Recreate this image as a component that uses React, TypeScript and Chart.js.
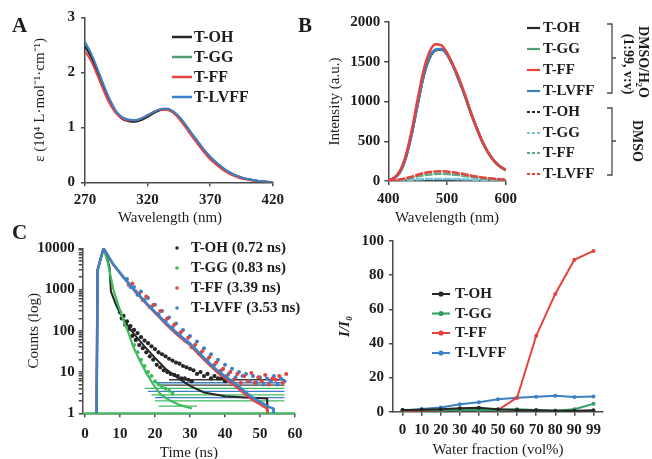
import React, { useEffect, useRef } from 'react';
import { Chart, registerables } from 'chart.js';

Chart.register(...registerables);

const SERIF = "'Liberation Serif', 'Times New Roman', Times, serif";
const AXIS = '#4a4a4a';
const INK = '#1c1c1c';

const seriesNames = ['T-OH', 'T-GG', 'T-FF', 'T-LVFF'];
const lifetimesNs = ['0.72', '0.83', '3.39', '3.53'];

// ---------- Panel A: absorption ----------
const absWavelength = [270, 275, 280, 285, 290, 295, 300, 305, 310, 315, 320, 325, 330, 335, 340, 345, 350, 355, 360, 365, 370, 375, 380, 385, 390, 395, 400, 405, 410, 415, 420];
const absTOH = [2.47, 2.27, 2.0, 1.72, 1.46, 1.26, 1.15, 1.11, 1.1, 1.13, 1.19, 1.26, 1.31, 1.33, 1.29, 1.19, 1.05, 0.89, 0.74, 0.59, 0.46, 0.35, 0.26, 0.19, 0.13, 0.09, 0.06, 0.04, 0.02, 0.01, 0.0];
const absTGG = [2.52, 2.31, 2.03, 1.74, 1.48, 1.28, 1.17, 1.13, 1.12, 1.15, 1.21, 1.28, 1.32, 1.33, 1.29, 1.18, 1.04, 0.88, 0.73, 0.58, 0.45, 0.34, 0.25, 0.18, 0.12, 0.08, 0.05, 0.03, 0.02, 0.01, 0.0];
const absTFF = [2.38, 2.2, 1.94, 1.66, 1.42, 1.25, 1.16, 1.13, 1.13, 1.16, 1.22, 1.28, 1.32, 1.32, 1.27, 1.16, 1.01, 0.85, 0.7, 0.55, 0.42, 0.32, 0.23, 0.16, 0.11, 0.07, 0.05, 0.03, 0.02, 0.01, 0.0];
const absTLVFF = [2.55, 2.34, 2.06, 1.77, 1.5, 1.29, 1.18, 1.14, 1.13, 1.16, 1.22, 1.28, 1.33, 1.34, 1.3, 1.2, 1.06, 0.9, 0.75, 0.6, 0.47, 0.36, 0.27, 0.19, 0.13, 0.09, 0.06, 0.04, 0.02, 0.01, 0.0];
const absTicksX = [270, 320, 370, 420];
const absTicksY = [0, 1, 2, 3];

// ---------- Panel B: emission ----------
const emWavelength = [400, 410, 420, 430, 440, 450, 460, 470, 480, 490, 500, 510, 520, 530, 540, 550, 560, 570, 580, 590, 600];
const emWaterTOH = [8, 33, 112, 295, 594, 962, 1312, 1542, 1643, 1655, 1592, 1452, 1272, 1082, 867, 672, 497, 357, 252, 182, 137];
const emWaterTGG = [9, 36, 117, 303, 605, 975, 1325, 1554, 1652, 1660, 1596, 1456, 1276, 1086, 871, 676, 501, 361, 256, 186, 141];
const emWaterTFF = [10, 40, 130, 330, 640, 1030, 1390, 1620, 1720, 1710, 1615, 1465, 1300, 1100, 880, 680, 500, 360, 255, 185, 140];
const emWaterTLVFF = [8, 35, 115, 300, 600, 970, 1320, 1550, 1650, 1660, 1595, 1455, 1275, 1085, 870, 675, 500, 360, 255, 185, 140];
const emDmsoTOH = [2, 3, 4, 6, 8, 10, 12, 13, 14, 14, 13, 12, 11, 10, 8, 7, 6, 5, 4, 3, 3];
const emDmsoTGG = [3, 5, 8, 12, 16, 20, 23, 25, 26, 26, 25, 24, 22, 20, 18, 16, 14, 12, 10, 9, 8];
const emDmsoTFF = [3, 8, 15, 28, 42, 58, 72, 82, 88, 90, 88, 82, 74, 64, 54, 44, 35, 28, 22, 17, 13];
const emDmsoTLVFF = [4, 10, 20, 35, 55, 78, 98, 112, 120, 122, 118, 110, 98, 85, 70, 57, 45, 35, 27, 21, 16];
const emTicksX = [400, 500, 600];
const emTicksY = [0, 500, 1000, 1500, 2000];

// ---------- Panel C: decay ----------
const fitTimeTOH = [3.3, 3.6, 5.3, 6.3, 7.0, 7.4, 9, 11, 13.8, 17, 20, 23, 26.7, 30, 34, 40, 46, 52, 52.1];
const fitCountTOH = [1, 3000, 10000, 6000, 3500, 900, 400, 190, 88, 42, 22, 12, 7, 4.6, 3.2, 2.6, 2.4, 2.3, 1];
const fitTimeTGG = [3.3, 3.6, 5.3, 6.5, 8.1, 9.5, 11, 12.5, 13.8, 15.5, 17.6, 19.5, 21.4, 24, 27, 30, 30.5];
const fitCountTGG = [1, 3000, 10000, 4500, 1000, 420, 180, 85, 41, 20, 9.3, 5, 3, 2.1, 1.6, 1.35, 1.3];
const fitTimeTFF = [3.3, 3.6, 5.3, 8, 11, 14, 17.6, 20.5, 23.3, 26.5, 30, 34, 38, 42.9, 47.6, 52, 52.1];
const fitCountTFF = [1, 3000, 10000, 4100, 1950, 980, 440, 245, 140, 78, 45, 20, 9.5, 4.6, 2.2, 1.3, 1];
const fitTimeTLVFF = [3.3, 3.6, 5.3, 8, 11, 14, 17.6, 20.5, 23.3, 26.5, 30, 34, 38, 42.9, 47.6, 52.4, 53.8, 53.9];
const fitCountTLVFF = [1, 3000, 10000, 4200, 2000, 1000, 460, 260, 150, 85, 49, 22, 10.5, 5.3, 2.5, 1.45, 1.3, 1];

const dotTimeTOH = [10, 10.5, 11, 11.5, 12, 12.5, 13, 13.5, 14, 14.5, 15, 15.5, 16, 16.5, 17, 17.5, 18, 18.5, 19, 19.5, 20, 20.5, 21, 21.5, 22, 22.5, 23, 23.5, 24, 24.5, 25, 25.5, 26, 26.5, 27, 27.5, 28, 28.5, 29, 29.5, 30, 30.5, 31, 32, 33, 34, 35, 36, 37, 38, 39, 40];
const dotCountTOH = [280, 200, 230, 140, 170, 110, 130, 75, 105, 60, 88, 45, 70, 38, 58, 30, 50, 24, 42, 20, 36, 15, 30, 13, 27, 11, 24, 10, 21, 9, 19, 8.5, 17, 8, 16, 7, 14, 7, 13, 6.5, 12, 6, 11, 9, 10, 8, 9, 7, 8, 7, 7, 6];
const dotTimeTGG = [14, 15, 16, 17, 18, 19, 20, 21, 22, 23, 24, 25];
const dotCountTGG = [45, 30, 20, 14, 10, 8, 6, 5, 4.5, 4, 3.5, 3];
const dotTimeTFF = [12.5, 13.5, 14.5, 15.5, 16.5, 17.5, 18.5, 19.5, 20.5, 21.5, 22.5, 23.5, 24.5, 25.5, 26.5, 27.5, 28.5, 29.5, 30.5, 31.5, 32.5, 33.5, 34.5, 35.5, 36.5, 37.5, 38.5, 39.5, 40.5, 41.5, 42.5, 43.5, 44.5, 45.5, 46.5, 47.5, 48.5, 49.5, 50.5, 51.5, 52.5, 53.5, 54.5, 55.5, 56.5, 57.5];
const dotCountTFF = [1300, 1400, 900, 800, 560, 680, 380, 420, 260, 300, 175, 200, 120, 140, 85, 95, 58, 68, 40, 46, 28, 32, 20, 23, 14, 17, 10.5, 12, 8, 10, 6.5, 9, 5.5, 8, 6, 9.5, 5.5, 7.5, 6, 8.5, 5, 7, 6.5, 8, 5.5, 9];
const dotTimeTLVFF = [12, 13, 14, 15, 16, 17, 18, 19, 20, 21, 22, 23, 24, 25, 26, 27, 28, 29, 30, 31, 32, 33, 34, 35, 36, 37, 38, 39, 40, 41, 42, 43, 44, 45, 46, 47, 48, 49, 50, 51, 52, 53, 54, 55, 56, 57];
const dotCountTLVFF = [1800, 1150, 1150, 750, 900, 560, 620, 380, 430, 250, 300, 170, 210, 120, 150, 82, 105, 55, 75, 40, 55, 28, 38, 20, 27, 15, 20, 11, 15, 9, 12, 7.5, 10, 8, 9, 6, 8, 5.5, 7.5, 5, 7, 6, 8, 5, 7, 6];
// discrete low-count levels: [start time, counts], all running to levelEndTime
const levelsTOH = [[24, 6.5], [21, 4.8]];
const levelsTGG = [[17, 4.0], [19, 2.8], [20, 2.0], [21, 1.5]];
const levelsTLVFF = [[20, 5.5], [18, 3.4], [20, 2.4]];
const levelEndTime = 57;
const baselineTGG = [[-0.66, 1], [60, 1]];
const timeTicks = [0, 10, 20, 30, 40, 50, 60];
const countDecades = [1, 10, 100, 1000, 10000];

// ---------- Panel D: water fraction ----------
const waterLabels = ['0', '10', '20', '30', '40', '50', '60', '70', '80', '90', '99'];
const ratioTOH = [1, 1.2, 1.5, 2, 2.3, 1.5, 1, 0.8, 0.5, 0.5, 0.8];
const ratioTGG = [1, 1, 1, 1, 1.2, 1, 1.5, 1, 0.5, 1.5, 4.6];
const ratioTFF = [0.5, 0.6, 0.8, 1, 1, 1, 8.2, 44.5, 69, 89, 94.2];
const ratioTLVFF = [0.6, 1.6, 2.4, 4.3, 5.5, 7.3, 8.2, 8.8, 9.4, 8.6, 8.9];
const ratioTicksY = [0, 20, 40, 60, 80, 100];

// ---------- styles ----------
const C_BLACK = '#262626';
const C_GREEN = '#4f9f72';
const C_GREEN_C = '#3dbb5e';
const C_RED = '#e6423c';
const C_BLUE = '#3c80c6';
const C_CYAN = '#74c4d8';
const C_GRAYGREEN = '#5ea884';

function xy(xs: number[], ys: number[]) {
  return xs.map((x, i) => ({ x, y: ys[i] }));
}

function axis(o: any) {
  return {
    type: o.type || 'linear',
    min: o.min,
    max: o.max,
    afterBuildTicks: (s: any) => {
      s.ticks = o.ticks.map((v: number) => ({ value: v }));
    },
    afterFit: (s: any) => {
      if (o.horizontal) s.height = o.size;
      else s.width = o.size;
    },
    grid: { display: true, drawOnChartArea: false, drawTicks: true, tickLength: 4, color: AXIS, lineWidth: 1.5 },
    border: { display: true, color: AXIS, width: 1.5 },
    ticks: {
      font: { family: SERIF, size: 15, weight: 'bold' },
      color: INK,
      padding: o.pad,
      autoSkip: false,
      maxRotation: 0,
      minRotation: 0,
      callback: (v: any) => (o.labelFilter && !o.labelFilter(v) ? '' : String(v)),
    },
    title: o.title
      ? { display: true, text: o.title, font: o.titleFont || { family: SERIF, size: 15 }, color: INK, padding: o.titlePad }
      : { display: false },
  };
}

type LegendEntry = { label: string; color: string; dash?: number[] };

function drawLegend(ctx: any, entries: LegendEntry[], ys: number[], o: any) {
  ctx.save();
  ctx.font = o.font;
  ctx.textBaseline = 'middle';
  ctx.textAlign = 'left';
  entries.forEach((e, i) => {
    const y = ys[i];
    if (o.kind === 'dot') {
      ctx.fillStyle = e.color;
      ctx.beginPath();
      ctx.arc(o.x1, y, 1.8, 0, Math.PI * 2);
      ctx.fill();
    } else {
      ctx.strokeStyle = e.color;
      ctx.lineWidth = o.lw;
      ctx.setLineDash(e.dash || []);
      ctx.beginPath();
      ctx.moveTo(o.x1, y);
      ctx.lineTo(o.x2, y);
      ctx.stroke();
      ctx.setLineDash([]);
      if (o.kind === 'linedot') {
        ctx.fillStyle = e.color;
        ctx.beginPath();
        ctx.arc((o.x1 + o.x2) / 2, y, 2.6, 0, Math.PI * 2);
        ctx.fill();
      }
    }
    ctx.fillStyle = INK;
    ctx.fillText(e.label, o.tx, y + 0.5);
  });
  ctx.restore();
}

const baseOpts = {
  responsive: false,
  animation: false,
  devicePixelRatio: 1,
  events: [],
};

function configA(): any {
  const colors = [C_BLACK, C_GREEN, C_RED, C_BLUE];
  const series = [absTOH, absTGG, absTFF, absTLVFF];
  const orders = [2, 3, 1, 0];
  return {
    type: 'line',
    data: {
      datasets: series.map((s, i) => ({
        label: seriesNames[i],
        data: xy(absWavelength, s),
        borderColor: colors[i],
        borderWidth: 2,
        pointRadius: 0,
        cubicInterpolationMode: 'monotone',
        order: orders[i],
      })),
    },
    options: {
      ...baseOpts,
      layout: { padding: { left: 0, top: 17.3, right: 57.3, bottom: 0 } },
      plugins: { legend: { display: false }, tooltip: { enabled: false } },
      scales: {
        x: axis({ ticks: absTicksX, min: 270, max: 420, horizontal: true, size: 44.7, pad: 5 }),
        y: axis({
          ticks: absTicksY, min: 0, max: 3, horizontal: false, size: 85, pad: 6,
          title: 'ε (10⁴ L·mol⁻¹·cm⁻¹)', titlePad: { top: 31, bottom: 0 },
          titleFont: { family: SERIF, size: 15 },
        }),
      },
    },
    plugins: [
      {
        id: 'aExtras',
        afterDraw(chart: any) {
          const ctx = chart.ctx;
          drawLegend(ctx, seriesNames.map((n, i) => ({ label: n, color: colors[i] })), [37, 57, 77, 97], {
            kind: 'line', x1: 172, x2: 192, tx: 194, lw: 2.5, font: `bold 16px ${SERIF}`,
          });
          ctx.save();
          ctx.font = `15px ${SERIF}`;
          ctx.fillStyle = INK;
          ctx.textAlign = 'center';
          ctx.textBaseline = 'middle';
          ctx.fillText('Wavelength (nm)', 170, 218);
          ctx.restore();
        },
      },
    ],
  };
}

function configB(): any {
  const water = [emWaterTOH, emWaterTGG, emWaterTFF, emWaterTLVFF];
  const dmso = [emDmsoTOH, emDmsoTGG, emDmsoTFF, emDmsoTLVFF];
  const waterColors = [C_BLACK, C_GREEN, C_RED, C_BLUE];
  const dmsoColors = [C_BLACK, C_CYAN, C_GRAYGREEN, C_RED];
  const waterOrder = [6, 5, 0, 4];
  const dmsoOrder = [3, 2, 1, 0.5];
  const datasets: any[] = [];
  water.forEach((s, i) =>
    datasets.push({
      label: seriesNames[i] + ' water',
      data: xy(emWavelength, s),
      borderColor: waterColors[i],
      borderWidth: 2.5,
      pointRadius: 0,
      cubicInterpolationMode: 'monotone',
      order: waterOrder[i],
    })
  );
  dmso.forEach((s, i) =>
    datasets.push({
      label: seriesNames[i] + ' DMSO',
      data: xy(emWavelength, s),
      borderColor: dmsoColors[i],
      borderWidth: 2.5,
      borderDash: [8, 1.2],
      pointRadius: 0,
      cubicInterpolationMode: 'monotone',
      order: dmsoOrder[i],
    })
  );
  return {
    type: 'line',
    data: { datasets },
    options: {
      ...baseOpts,
      layout: { padding: { left: 0, top: 22, right: 146.3, bottom: 0 } },
      plugins: { legend: { display: false }, tooltip: { enabled: false } },
      scales: {
        x: axis({
          ticks: emTicksX, min: 400, max: 600, horizontal: true, size: 46, pad: 5,
          title: 'Wavelength (nm)', titlePad: { top: 0, bottom: 0 },
        }),
        y: axis({
          ticks: emTicksY, min: 0, max: 2000, horizontal: false, size: 72.3, pad: 4,
          title: 'Intensity (a.u.)', titlePad: { top: 10, bottom: 0 },
        }),
      },
    },
    plugins: [
      {
        id: 'bExtras',
        afterDraw(chart: any) {
          const ctx = chart.ctx;
          const entries: LegendEntry[] = [
            ...seriesNames.map((n, i) => ({ label: n, color: waterColors[i] })),
            ...seriesNames.map((n, i) => ({ label: n, color: dmsoColors[i], dash: [3, 2] })),
          ];
          drawLegend(ctx, entries, [28, 49, 70, 91, 112, 133, 153, 174], {
            kind: 'line', x1: 211, x2: 224, tx: 227, lw: 2.2, font: `bold 15px ${SERIF}`,
          });
          ctx.save();
          ctx.strokeStyle = AXIS;
          ctx.lineWidth = 1.3;
          const brackets = [[24, 93, 58], [108, 175, 141]];
          brackets.forEach(([y1, y2, ym]) => {
            ctx.beginPath();
            ctx.moveTo(291, y1);
            ctx.lineTo(296, y1);
            ctx.lineTo(296, y2);
            ctx.lineTo(291, y2);
            ctx.moveTo(296, ym);
            ctx.lineTo(300, ym);
            ctx.stroke();
          });
          ctx.fillStyle = INK;
          ctx.textAlign = 'center';
          ctx.textBaseline = 'middle';
          const rot = (txt: string, x: number, y: number, font: string) => {
            ctx.save();
            ctx.translate(x, y);
            ctx.rotate(Math.PI / 2);
            ctx.font = font;
            ctx.fillText(txt, 0, 0);
            ctx.restore();
          };
          rot('DMSO/H₂O', 327, 62, `bold 14px ${SERIF}`);
          rot('(1:99, v:v)', 312, 64, `bold 14px ${SERIF}`);
          rot('DMSO', 321, 141, `bold 14px ${SERIF}`);
          ctx.restore();
        },
      },
    ],
  };
}

function configC(): any {
  const datasets: any[] = [];
  const line = (label: string, data: any[], color: string, width: number, order: number, extra: any = {}) =>
    datasets.push({ type: 'scatter', label, data, borderColor: color, backgroundColor: color, borderWidth: width, showLine: true, pointRadius: 0, tension: 0, order, ...extra });
  const dots = (label: string, data: any[], color: string, order: number, r: number) =>
    datasets.push({ type: 'scatter', label, data, borderColor: color, backgroundColor: color, pointRadius: r, borderWidth: 0, showLine: false, order });

  line('T-GG baseline', baselineTGG.map(([x, y]) => ({ x, y })), C_GREEN_C, 2, 10, { clip: false });
  levelsTOH.forEach(([t, c], i) => line('T-OH level ' + i, [{ x: t, y: c }, { x: levelEndTime, y: c }], '#3a3a3a', 1.3, 9));
  levelsTGG.forEach(([t, c], i) => line('T-GG level ' + i, [{ x: t, y: c }, { x: levelEndTime - (i === 3 ? 25 : 0), y: c }], C_GREEN_C, 1.3, 9));
  levelsTLVFF.forEach(([t, c], i) => line('T-LVFF level ' + i, [{ x: t, y: c }, { x: levelEndTime, y: c }], C_BLUE, 1.3, 9));
  dots('T-OH data', xy(dotTimeTOH, dotCountTOH), C_BLACK, 8, 2.1);
  dots('T-GG data', xy(dotTimeTGG, dotCountTGG), C_GREEN_C, 7, 2);
  line('T-OH fit', xy(fitTimeTOH, fitCountTOH), C_BLACK, 2, 6);
  line('T-GG fit', xy(fitTimeTGG, fitCountTGG), C_GREEN_C, 2.2, 5);
  line('T-FF fit', xy(fitTimeTFF, fitCountTFF), C_RED, 2.4, 4);
  dots('T-LVFF data', xy(dotTimeTLVFF, dotCountTLVFF), C_BLUE, 3, 2);
  dots('T-FF data', xy(dotTimeTFF, dotCountTFF), C_RED, 2, 2);
  line('T-LVFF fit', xy(fitTimeTLVFF, fitCountTLVFF), C_BLUE, 2.6, 1);

  const minorTicks: number[] = [];
  countDecades.forEach((d) => {
    if (d === 10000) minorTicks.push(d);
    else [1, 2, 3, 4, 5, 6, 7, 8, 9].forEach((k) => minorTicks.push(k * d));
  });

  const colors = [C_BLACK, C_GREEN_C, C_RED, C_BLUE];
  return {
    type: 'scatter',
    data: { datasets },
    options: {
      ...baseOpts,
      layout: { padding: { left: 0, top: 23.3, right: 35, bottom: 0 } },
      plugins: { legend: { display: false }, tooltip: { enabled: false } },
      scales: {
        x: axis({
          ticks: timeTicks, min: -0.66, max: 60, horizontal: true, size: 45.7, pad: 8,
          title: 'Time (ns)', titlePad: { top: 0, bottom: -3 },
        }),
        y: axis({
          type: 'logarithmic', ticks: minorTicks, min: 1, max: 10000, horizontal: false, size: 82.7, pad: 4,
          labelFilter: (v: number) => countDecades.includes(v),
          title: 'Counts (log)', titlePad: { top: 25, bottom: 0 },
        }),
      },
    },
    plugins: [
      {
        id: 'cExtras',
        afterDraw(chart: any) {
          drawLegend(
            chart.ctx,
            seriesNames.map((n, i) => ({ label: `${n} (${lifetimesNs[i]} ns)`, color: colors[i] })),
            [23, 43, 63, 83],
            { kind: 'dot', x1: 177, tx: 191, font: `bold 15px ${SERIF}` }
          );
        },
      },
    ],
  };
}

function configD(): any {
  const colors = [C_BLACK, '#2e9e62', C_RED, C_BLUE];
  const series = [ratioTOH, ratioTGG, ratioTFF, ratioTLVFF];
  const orders = [0, 1, 2, 3];
  return {
    type: 'line',
    data: {
      labels: waterLabels,
      datasets: series.map((s, i) => ({
        label: seriesNames[i],
        data: s,
        borderColor: colors[i],
        backgroundColor: colors[i],
        borderWidth: 2,
        pointRadius: 2,
        pointBorderWidth: 0,
        tension: 0,
        order: orders[i],
      })),
    },
    options: {
      ...baseOpts,
      layout: { padding: { left: 0, top: 16, right: 49, bottom: 0 } },
      plugins: { legend: { display: false }, tooltip: { enabled: false } },
      scales: {
        x: {
          type: 'category',
          offset: true,
          afterFit: (s: any) => {
            s.height = 47.3;
          },
          grid: { display: true, drawOnChartArea: false, drawTicks: true, tickLength: 4, color: AXIS, lineWidth: 1.5, offset: false },
          border: { display: true, color: AXIS, width: 1.5 },
          ticks: {
            font: { family: SERIF, size: 15, weight: 'bold' },
            color: INK,
            padding: 5,
            autoSkip: false,
            maxRotation: 0,
            minRotation: 0,
            callback: (_v: any, i: number) => waterLabels[i],
          },
          title: { display: true, text: 'Water fraction (vol%)', font: { family: SERIF, size: 15 }, color: INK, padding: { top: 0, bottom: 0 } },
        },
        y: axis({
          ticks: ratioTicksY, min: 0, max: 100, horizontal: false, size: 63, pad: 5,
          title: 'I/I₀', titlePad: { top: 6, bottom: 0 },
          titleFont: { family: SERIF, size: 15, weight: 'bold', style: 'italic' },
        }),
      },
    },
    plugins: [
      {
        id: 'dExtras',
        afterDraw(chart: any) {
          drawLegend(
            chart.ctx,
            seriesNames.map((n, i) => ({ label: n, color: colors[i] })),
            [69, 88.5, 108, 128],
            { kind: 'linedot', x1: 102, x2: 120, tx: 125, lw: 2, font: `bold 15px ${SERIF}` }
          );
        },
      },
    ],
  };
}

function Panel({ left, top, width, height, make }: { left: number; top: number; width: number; height: number; make: () => any }) {
  const ref = useRef<HTMLCanvasElement>(null);
  useEffect(() => {
    const chart = new Chart(ref.current as HTMLCanvasElement, make());
    return () => chart.destroy();
  }, []);
  return (
    <canvas
      ref={ref}
      width={width}
      height={height}
      style={{ position: 'absolute', left, top, width, height }}
    />
  );
}

const letterStyle: any = {
  position: 'absolute',
  fontFamily: SERIF,
  fontWeight: 'bold',
  fontSize: 21,
  lineHeight: '21px',
  color: INK,
};

export default function App() {
  return (
    <div style={{ position: 'absolute', left: 0, top: 0, width: 652, height: 459, background: '#ffffff', overflow: 'hidden' }}>
      <Panel left={0} top={0} width={330} height={227} make={configA} />
      <Panel left={316} top={0} width={336} height={227} make={configB} />
      <Panel left={0} top={225} width={330} height={234} make={configC} />
      <Panel left={330} top={225} width={322} height={234} make={configD} />
      <div style={{ ...letterStyle, left: 12, top: 15 }}>A</div>
      <div style={{ ...letterStyle, left: 298, top: 15 }}>B</div>
      <div style={{ ...letterStyle, left: 12, top: 222 }}>C</div>
    </div>
  );
}
